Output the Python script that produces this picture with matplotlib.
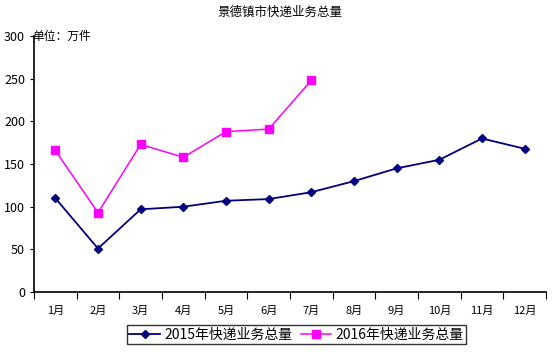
import numpy as np
import matplotlib.pyplot as plt

plt.rcParams['font.family'] = ['Noto Sans CJK SC', 'DejaVu Sans']

# data
months = ['1月', '2月', '3月', '4月', '5月', '6月', '7月', '8月', '9月', '10月', '11月', '12月']
total_2015 = [110, 51, 97, 100, 107, 109, 117, 130, 145, 155, 180, 168]
total_2016 = [166, 93, 173, 158, 188, 191, 248]

fig = plt.figure(figsize=(5.54, 3.54), dpi=100)
ax = fig.add_axes([0.0614, 0.175, 0.924, 0.723])

x = np.arange(len(months))
ax.plot(x, total_2015, color='#000080', marker='D', markersize=4.5, lw=1.3,
        label='2015年快递业务总量')
ax.plot(x[:len(total_2016)], total_2016, color='#FF00FF', marker='s', markersize=6, lw=1.1,
        label='2016年快递业务总量')

ax.set_xlim(-0.5, len(months) - 0.5)
ax.set_ylim(0, 300)
ax.set_yticks(range(0, 301, 50))
ax.tick_params(axis='y', labelsize=9, length=3, direction='out')

# ticks between categories, labels under the categories
ax.set_xticks(np.arange(-0.5, len(months) + 0.5, 1))
ax.set_xticklabels([])
ax.set_xticks(x, minor=True)
ax.set_xticklabels(months, minor=True, fontsize=8)
ax.tick_params(axis='x', which='major', length=5, direction='out')
ax.tick_params(axis='x', which='minor', length=0, pad=10)

for s in ['top', 'right']:
    ax.spines[s].set_visible(False)
ax.spines['left'].set_linewidth(1.2)
ax.spines['bottom'].set_linewidth(1.2)

fig.text(0.505, 0.965, '景德镇市快递业务总量', ha='center', va='center', fontsize=9)
fig.text(0.058, 0.898, '单位：万件', ha='left', va='center', fontsize=8.5)

leg = fig.legend(loc='center', bbox_to_anchor=(0.535, 0.055), ncol=2, fontsize=10,
                 frameon=True, fancybox=False, edgecolor='black', handlelength=2.2,
                 columnspacing=0.6, handletextpad=0.3, borderpad=0.2)
leg.get_frame().set_linewidth(1.0)

fig.savefig('out.png', dpi=100)
